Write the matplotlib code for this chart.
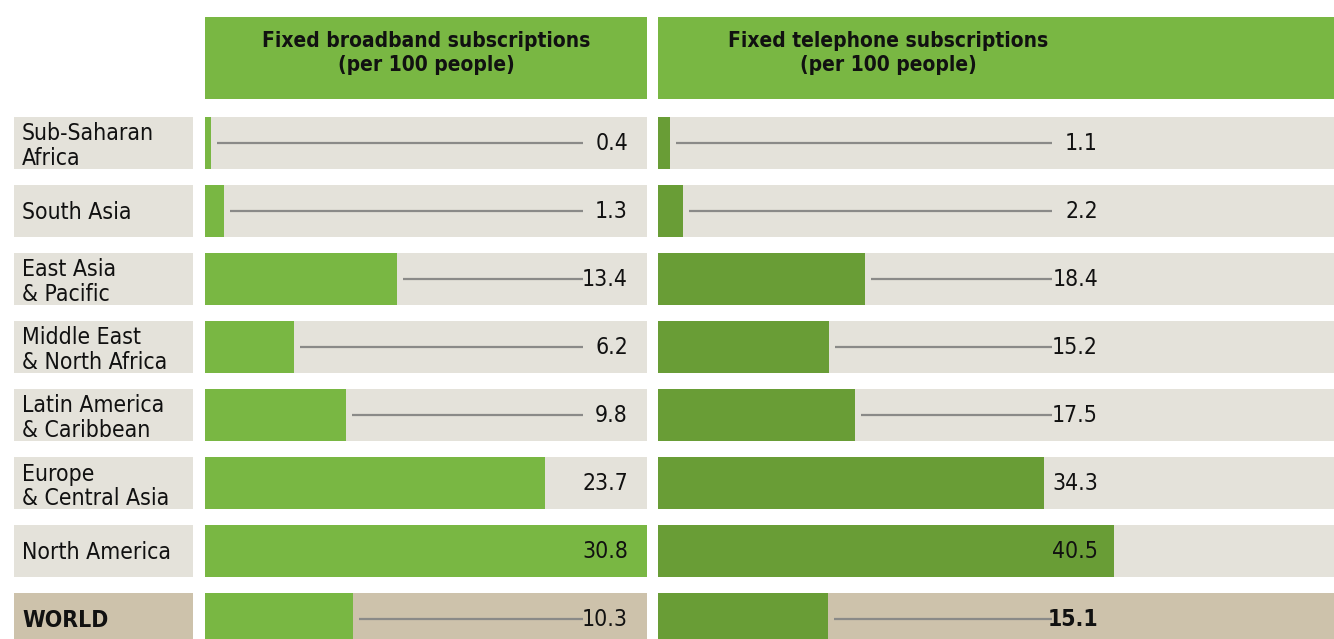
import matplotlib
matplotlib.use("Agg")
import matplotlib.pyplot as plt
from matplotlib import font_manager
from matplotlib.patches import Rectangle

regions = ['Sub-Saharan\nAfrica', 'South Asia', 'East Asia\n& Pacific',
           'Middle East\n& North Africa', 'Latin America\n& Caribbean',
           'Europe\n& Central Asia', 'North America', 'WORLD']
broadband = [0.4, 1.3, 13.4, 6.2, 9.8, 23.7, 30.8, 10.3]
telephone = [1.1, 2.2, 18.4, 15.2, 17.5, 34.3, 40.5, 15.1]
titles = ['Fixed broadband subscriptions\n(per 100 people)',
          'Fixed telephone subscriptions\n(per 100 people)']

# look for a narrow face, the reference uses a condensed sans
fam, stretch = 'Liberation Sans', 'normal'
for f in font_manager.fontManager.ttflist:
    n = (f.name + ' ' + f.fname).lower()
    if 'narrow' in n or 'condensed' in n or str(f.stretch) in ('condensed', 'semi-condensed', '600', '700'):
        if 'sans' in n or 'roboto' in n:
            fam, stretch = f.name, f.stretch
            break
plt.rcParams['font.family'] = [fam, 'Liberation Sans', 'DejaVu Sans']
plt.rcParams['font.stretch'] = stretch

W, H = 1334, 639
fig = plt.figure(figsize=(W / 100, H / 100), dpi=100)

bg_row = '#e4e2da'
bg_world = '#cdc2ab'
green_light = '#79b743'
green_dark = '#699d36'
header_green = '#79b743'

row_top, pitch, row_h = 117, 68, 52
half = row_h / pitch / 2
ybot = (H - (row_top + row_h / 2)) / pitch
ylim = (ybot, -half)

narrow = fam != 'Liberation Sans'
fs = 16.5 if narrow else 15.5
hfs = 15 if narrow else 14.5


def px_axes(x0, x1, y0, y1):
    return fig.add_axes([x0 / W, 1 - y1 / H, (x1 - x0) / W, (y1 - y0) / H])


rows = list(range(len(regions)))
bg_colors = [bg_row] * 7 + [bg_world]

# label column
axl = px_axes(14, 193, row_top, H)
axl.set_xlim(0, 1)
axl.set_ylim(*ylim)
axl.barh(rows, [1] * len(rows), height=2 * half, left=0, color=bg_colors)
for i, r in enumerate(regions):
    bold = r == 'WORLD'
    dy = 0.05 if '\n' in r else 0.02
    axl.text(0.045, i + dy, r, ha='left', va='center', fontsize=fs,
             linespacing=1.1, fontweight='bold' if bold else 'normal', color='#111111')
axl.axis('off')

# panels: (x0, x1, xmax, values, colour, label x, line end, header centre, bold world)
panels = [
    (205, 647, 30.8, broadband, green_light, 628, 583, 426, False),
    (658, 1334, 60.0, telephone, green_dark, 1098, 1052, 888, True),
]

for k, (x0, x1, xmax, vals, col, lab_px, line_px, hc, bold_world) in enumerate(panels):
    scale = (x1 - x0) / xmax
    ax = px_axes(x0, x1, row_top, H)
    ax.set_xlim(0, xmax)
    ax.set_ylim(*ylim)
    ax.barh(rows, [xmax] * len(rows), height=2 * half, color=bg_colors)
    ax.barh(rows, vals, height=2 * half, color=col)
    lab_x = (lab_px - x0) / scale
    line_end = (line_px - x0) / scale
    for i, v in enumerate(vals):
        start = v + 6 / scale
        if line_end - start > 50 / scale:
            ax.plot([start, line_end], [i, i], color='#8a8a88', lw=1.6,
                    solid_capstyle='butt')
        bold = bold_world and i == len(vals) - 1
        ax.text(lab_x, i + 0.005, f'{v:.1f}', ha='right', va='center', fontsize=fs,
                fontweight='bold' if bold else 'normal', color='#111111')
    ax.axis('off')

    # header
    axh = px_axes(x0, x1, 17, 99)
    axh.set_xlim(x0, x1)
    axh.set_ylim(99, 17)
    axh.add_patch(Rectangle((x0, 17), x1 - x0, 82, color=header_green))
    axh.text(hc, 53, titles[k], ha='center', va='center', fontsize=hfs,
             fontweight='bold', linespacing=1.3, color='#111111')
    axh.axis('off')

fig.savefig('out.png', dpi=100)
